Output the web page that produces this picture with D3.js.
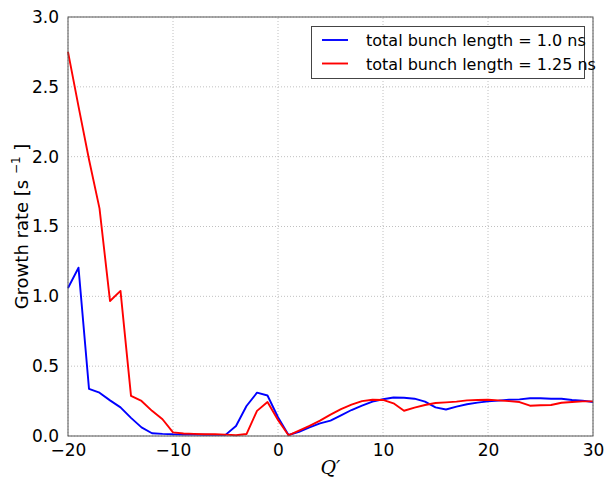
<!DOCTYPE html>
<html>
<head>
<meta charset="utf-8">
<script src="https://cdn.jsdelivr.net/npm/d3@7"></script>
<style>
  html, body { margin: 0; padding: 0; background: #fff; }
  svg { display: block; font-family: "DejaVu Sans", sans-serif; }
</style>
</head>
<body>
<svg id="chart" width="605" height="480"></svg>
<script>
// Chromaticity Q' values (integer steps)
const qPrime = d3.range(-20, 31);

// Growth rate [1/s] for total bunch length = 1.0 ns
const growth10 = [
  1.06, 1.205, 0.337, 0.31, 0.255, 0.205, 0.13, 0.062, 0.02, 0.015,
  0.012, 0.011, 0.010, 0.009, 0.008, 0.008, 0.072, 0.215, 0.31, 0.29,
  0.134, 0.007, 0.03, 0.062, 0.09, 0.11, 0.148, 0.186, 0.217, 0.246,
  0.263, 0.276, 0.274, 0.267, 0.246, 0.205, 0.19, 0.21, 0.227, 0.239,
  0.248, 0.253, 0.26, 0.262, 0.27, 0.27, 0.267, 0.267, 0.258, 0.253,
  0.243
];

// Growth rate [1/s] for total bunch length = 1.25 ns
const growth125 = [
  2.75, 2.36, 1.98, 1.63, 0.967, 1.039, 0.287, 0.251, 0.18, 0.12,
  0.026, 0.018, 0.015, 0.013, 0.012, 0.010, 0.005, 0.014, 0.18, 0.243,
  0.115, 0.005, 0.038, 0.072, 0.11, 0.153, 0.193, 0.224, 0.25, 0.26,
  0.258, 0.234, 0.181, 0.203, 0.222, 0.236, 0.241, 0.246, 0.255, 0.258,
  0.26, 0.255, 0.25, 0.243, 0.217, 0.22, 0.222, 0.238, 0.243, 0.248,
  0.248
];

const xTicks = [-20, -10, 0, 10, 20, 30];
const yTicks = [0.0, 0.5, 1.0, 1.5, 2.0, 2.5, 3.0];

const seriesLabels = ["total bunch length = 1.0 ns", "total bunch length = 1.25 ns"];
const seriesColors = ["#0000ff", "#ff0000"];

const svg = d3.select("#chart");
const margin = { left: 68, right: 12, top: 17, bottom: 44 };
const W = 605, H = 480;

const x = d3.scaleLinear().domain([-20, 30]).range([margin.left, W - margin.right]);
const y = d3.scaleLinear().domain([0, 3]).range([H - margin.bottom, margin.top]);

// Dotted grid
const grid = svg.append("g");
grid.selectAll("line.gx").data(xTicks).join("line")
  .attr("x1", d => x(d)).attr("x2", d => x(d))
  .attr("y1", y(0)).attr("y2", y(3))
  .attr("stroke", "#b0b0b0").attr("stroke-width", 0.8).attr("stroke-dasharray", "1,2");
grid.selectAll("line.gy").data(yTicks).join("line")
  .attr("x1", x(-20)).attr("x2", x(30))
  .attr("y1", d => y(d)).attr("y2", d => y(d))
  .attr("stroke", "#b0b0b0").attr("stroke-width", 0.8).attr("stroke-dasharray", "1,2");

// Axes (labels only, frame drawn separately)
const xAxis = d3.axisBottom(x).tickValues(xTicks).tickSize(0).tickPadding(8)
  .tickFormat(d => d < 0 ? "\u2212" + Math.abs(d) : String(d));
const gx = svg.append("g").attr("transform", `translate(0,${y(0)})`).call(xAxis);
gx.select(".domain").remove();
gx.selectAll("text").attr("font-size", 17).attr("fill", "#000")
  .attr("font-family", "DejaVu Sans, sans-serif");

const yAxis = d3.axisLeft(y).tickValues(yTicks).tickSize(0).tickPadding(9)
  .tickFormat(d3.format(".1f"));
const gy = svg.append("g").attr("transform", `translate(${x(-20)},0)`).call(yAxis);
gy.select(".domain").remove();
gy.selectAll("text").attr("font-size", 17).attr("fill", "#000")
  .attr("font-family", "DejaVu Sans, sans-serif");

// Series lines
const line = d3.line().x((d, i) => x(qPrime[i])).y(d => y(d));
[growth10, growth125].forEach((vals, k) => {
  svg.append("path").datum(vals)
    .attr("fill", "none")
    .attr("stroke", seriesColors[k])
    .attr("stroke-width", 1.9)
    .attr("stroke-linejoin", "round")
    .attr("d", line);
});

// Frame
svg.append("rect")
  .attr("x", x(-20)).attr("y", y(3))
  .attr("width", x(30) - x(-20)).attr("height", y(0) - y(3))
  .attr("fill", "none").attr("stroke", "#555").attr("stroke-width", 1);

// Axis titles
svg.append("text")
  .attr("x", x(5)).attr("y", 474)
  .attr("text-anchor", "middle")
  .attr("font-family", "DejaVu Serif, serif")
  .attr("font-style", "italic")
  .attr("font-size", 19)
  .text("Q\u2032");

const yl = svg.append("text")
  .attr("transform", `translate(28,${y(1.5)}) rotate(-90)`)
  .attr("text-anchor", "middle")
  .attr("font-size", 18);
yl.append("tspan").text("Growth rate [s ");
yl.append("tspan").attr("font-size", 12).attr("dy", -8).text("\u22121");
yl.append("tspan").attr("dy", 8).text(" ]");

// Legend
const lg = svg.append("g");
lg.append("rect")
  .attr("x", 311.5).attr("y", 26.5).attr("width", 273).attr("height", 52)
  .attr("fill", "#fff").attr("stroke", "#444").attr("stroke-width", 1);
seriesLabels.forEach((lab, k) => {
  const yy = 40 + k * 23.5;
  lg.append("line")
    .attr("x1", 322).attr("x2", 348).attr("y1", yy).attr("y2", yy)
    .attr("stroke", seriesColors[k]).attr("stroke-width", 1.9);
  lg.append("text")
    .attr("x", 366).attr("y", yy + 6)
    .attr("font-size", 16)
    .text(lab);
});
</script>
</body>
</html>
